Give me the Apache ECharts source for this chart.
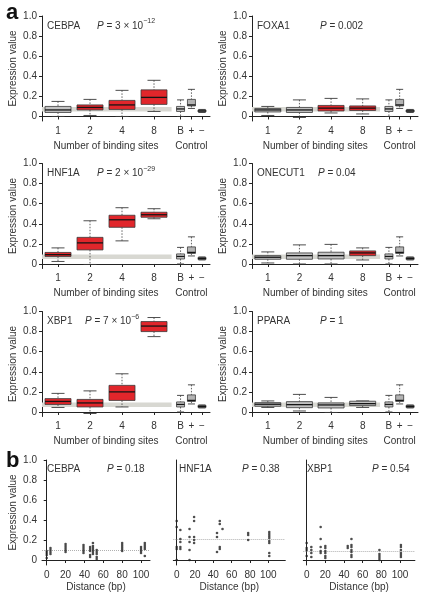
<!DOCTYPE html>
<html><head><meta charset="utf-8">
<script src="https://cdn.jsdelivr.net/npm/echarts@6.0.0/dist/echarts.min.js"></script>
<style>html,body{margin:0;padding:0;background:#fff}#c{width:422px;height:600px}</style>
</head><body><div id="c"></div>
<script>
// ---------- DATA ----------
const siteLabels = ['1', '2', '4', '8'];
const controlLabels = ['B', '+', '\u2212'];
const yTickValues = [0, 0.2, 0.4, 0.6, 0.8, 1.0];
const distanceTicks = [0, 20, 40, 60, 80, 100];

// boxes: [min, Q1, median, Q3, max]
const cebpaBoxes = [[0.0, 0.04, 0.065, 0.10, 0.15], [0.01, 0.065, 0.09, 0.115, 0.17], [0.0, 0.07, 0.115, 0.16, 0.26], [0.05, 0.12, 0.19, 0.265, 0.36]];
const cebpaSignificant = [0, 1, 1, 1];
const foxa1Boxes = [[0.01, 0.045, 0.065, 0.08, 0.10], [-0.01, 0.04, 0.065, 0.09, 0.165], [0.035, 0.055, 0.083, 0.11, 0.18], [0.025, 0.06, 0.083, 0.105, 0.175]];
const foxa1Significant = [0, 0, 1, 1];
const hnf1aBoxes = [[0.025, 0.075, 0.093, 0.115, 0.16], [-0.005, 0.14, 0.21, 0.265, 0.43], [0.23, 0.365, 0.44, 0.485, 0.56], [0.45, 0.465, 0.49, 0.515, 0.55]];
const hnf1aSignificant = [1, 1, 1, 1];
const onecut1Boxes = [[0.01, 0.047, 0.067, 0.083, 0.12], [0.0, 0.047, 0.083, 0.11, 0.19], [0.0, 0.05, 0.083, 0.117, 0.195], [0.04, 0.083, 0.11, 0.13, 0.16]];
const onecut1Significant = [0, 0, 0, 1];
const xbp1Boxes = [[0.045, 0.075, 0.105, 0.133, 0.185], [-0.015, 0.05, 0.09, 0.125, 0.21], [0.05, 0.115, 0.2, 0.265, 0.38], [0.75, 0.80, 0.855, 0.90, 0.94]];
const xbp1Significant = [1, 1, 1, 1];
const pparaBoxes = [[0.045, 0.057, 0.077, 0.093, 0.11], [0.01, 0.043, 0.073, 0.103, 0.175], [-0.005, 0.04, 0.07, 0.09, 0.145], [0.045, 0.063, 0.083, 0.107, 0.11]];
const pparaSignificant = [0, 0, 0, 0];
const controlBoxes = [[0.0, 0.05, 0.075, 0.10, 0.165], [0.08, 0.105, 0.115, 0.17, 0.27], [0.04, 0.045, 0.055, 0.065, 0.07]];
const backgroundBand = [0.05, 0.095];

// panel b: distance (bp) columns and expression values
const cebpaDistances = [0, 4, 20, 39, 46, 49, 53, 80, 100, 104];
const cebpaValues = [[0.09, 0.07, 0.05, 0.02], [0.12, 0.10, 0.08, 0.06], [0.16, 0.14, 0.12, 0.10, 0.08], [0.15, 0.13, 0.11, 0.09, 0.07], [0.13, 0.11, 0.09, 0.05, 0.03], [0.17, 0.14, 0.12, 0.10, 0.08, 0.06], [0.10, 0.08, 0.06, 0.03, 0.01], [0.17, 0.15, 0.13, 0.11, 0.09], [0.13, 0.11, 0.09, 0.07], [0.17, 0.15, 0.13, 0.11, 0.04]];
const hnf1aDistances = [0, 4, 14, 19, 44, 47, 50, 78, 101];
const hnf1aValues = [[0.39, 0.33, 0.13, 0.11, 0.0], [0.30, 0.21, 0.18, 0.13, 0.11], [0.31, 0.23, 0.18, 0.10, 0.0], [0.43, 0.39, 0.23, 0.20, 0.17], [0.27, 0.23, 0.08], [0.39, 0.36, 0.13, 0.11], [0.31], [0.27, 0.25, 0.20], [0.28, 0.26, 0.24, 0.22, 0.19, 0.17, 0.07, 0.04]];
const xbp1Distances = [0, 5, 15, 20, 44, 48, 78, 101];
const xbp1Values = [[0.17, 0.12, 0.10, 0.04], [0.13, 0.10, 0.07, 0.03], [0.33, 0.21, 0.13, 0.09, 0.07], [0.14, 0.12, 0.09, 0.07, 0.04, 0.02], [0.14, 0.12], [0.21, 0.15, 0.13, 0.10, 0.08, 0.05, 0.03], [0.10, 0.06, 0.04, 0.02, 0.0], [0.15, 0.13, 0.10, 0.07, 0.05, 0.03]];
const distanceReference = [0.105, 0.215, 0.085];

// ---------- LAYOUT / STYLE ----------
const FONT = "'Liberation Sans', Arial, sans-serif";
const TXT = '#333';
const AX = '#222';
const RED = '#e1262b';
const GRAY = '#c2c2c2';
const CONTROL_FILLS = ['#c9c9c9', '#b4b4b4', '#9c9c9c'];
const siteSlots = [1, 2, 3, 4];
const controlSlots = [4.83, 5.17, 5.5];

const panelsA = [
  { name: 'CEBPA', p: '{i|P} = 3 \u00d7 10{s|\u221212}', px: 97, boxes: cebpaBoxes, sig: cebpaSignificant },
  { name: 'FOXA1', p: '{i|P} = 0.002', px: 320, boxes: foxa1Boxes, sig: foxa1Significant },
  { name: 'HNF1A', p: '{i|P} = 2 \u00d7 10{s|\u221229}', px: 97, boxes: hnf1aBoxes, sig: hnf1aSignificant },
  { name: 'ONECUT1', p: '{i|P} = 0.04', px: 318, boxes: onecut1Boxes, sig: onecut1Significant },
  { name: 'XBP1', p: '{i|P} = 7 \u00d7 10{s|\u22126}', px: 85, boxes: xbp1Boxes, sig: xbp1Significant },
  { name: 'PPARA', p: '{i|P} = 1', px: 320, boxes: pparaBoxes, sig: pparaSignificant }
];
const panelsB = [
  { name: 'CEBPA', p: '{i|P} = 0.18', nx: 47, px: 107, d: cebpaDistances, v: cebpaValues, left: 42, width: 108, min: -5, max: 109.5, yLabels: true },
  { name: 'HNF1A', p: '{i|P} = 0.38', nx: 179, px: 242, d: hnf1aDistances, v: hnf1aValues, left: 173.3, width: 112, min: -3.7, max: 118.5, yLabels: false },
  { name: 'XBP1', p: '{i|P} = 0.54', nx: 307, px: 372, d: xbp1Distances, v: xbp1Values, left: 303.3, width: 111.6, min: -3.6, max: 116, yLabels: false }
];
const rowTops = [16, 163.5, 311.5];
const GRID_H = 105;

const richP = {
  i: { fontStyle: 'italic', fontSize: 10, fontFamily: FONT, fill: TXT, color: TXT, lineHeight: 16 },
  s: { fontSize: 7, fontFamily: FONT, fill: TXT, color: TXT, verticalAlign: 'top', lineHeight: 9 }
};

function textEl(x, y, text, opts) {
  opts = opts || {};
  return {
    type: 'text', x: x, y: y, silent: true,
    style: Object.assign({
      text: text, fill: TXT, fontSize: 10, fontFamily: FONT,
      align: 'left', textAlign: 'left', verticalAlign: 'middle', textVerticalAlign: 'middle',
      lineHeight: 16
    }, opts)
  };
}

function makeBoxRenderer(boxW, capW, fills) {
  return function (params, api) {
    const x = api.value(0);
    const pMin = api.coord([x, api.value(1)]);
    const pQ1 = api.coord([x, api.value(2)]);
    const pMed = api.coord([x, api.value(3)]);
    const pQ3 = api.coord([x, api.value(4)]);
    const pMax = api.coord([x, api.value(5)]);
    const cx = pMin[0];
    const fill = fills[api.value(6)];
    const stroke = '#3a3a3a';
    return {
      type: 'group', children: [
        { type: 'line', shape: { x1: cx, y1: pMax[1], x2: cx, y2: pQ3[1] }, style: { stroke: stroke, lineWidth: 0.8, lineDash: [1.5, 1.5] } },
        { type: 'line', shape: { x1: cx, y1: pQ1[1], x2: cx, y2: pMin[1] }, style: { stroke: stroke, lineWidth: 0.8, lineDash: [1.5, 1.5] } },
        { type: 'line', shape: { x1: cx - capW / 2, y1: pMax[1], x2: cx + capW / 2, y2: pMax[1] }, style: { stroke: stroke, lineWidth: 0.9 } },
        { type: 'line', shape: { x1: cx - capW / 2, y1: pMin[1], x2: cx + capW / 2, y2: pMin[1] }, style: { stroke: stroke, lineWidth: 0.9 } },
        { type: 'rect', shape: { x: cx - boxW / 2, y: pQ3[1], width: boxW, height: pQ1[1] - pQ3[1] }, style: { fill: fill, stroke: stroke, lineWidth: 0.8 } },
        { type: 'line', shape: { x1: cx - boxW / 2, y1: pMed[1], x2: cx + boxW / 2, y2: pMed[1] }, style: { stroke: '#151515', lineWidth: 1.3 } }
      ]
    };
  };
}

function makeBandRenderer() {
  return function (params, api) {
    const a = api.coord([api.value(0), api.value(3)]);
    const b = api.coord([api.value(1), api.value(2)]);
    return { type: 'rect', shape: { x: a[0], y: a[1], width: b[0] - a[0], height: b[1] - a[1] }, style: { fill: '#d8d8d2' } };
  };
}

const grid = [], xAxis = [], yAxis = [], series = [], graphic = [];
const xLabelAll = siteLabels.concat(controlLabels);
const xSlotAll = siteSlots.concat(controlSlots);
function slotLabel(v) {
  for (let i = 0; i < xSlotAll.length; i++) if (Math.abs(xSlotAll[i] - v) < 1e-6) return xLabelAll[i];
  return '';
}

graphic.push(textEl(6, 13, 'a', { fontSize: 22, fontWeight: 'bold', fill: '#111' }));
graphic.push(textEl(6, 461, 'b', { fontSize: 22, fontWeight: 'bold', fill: '#111' }));

panelsA.forEach(function (pn, i) {
  const row = Math.floor(i / 2), col = i % 2;
  const left = col ? 252 : 42, width = col ? 166 : 168, top = rowTops[row];
  grid.push({ left: left, top: top, width: width, height: GRID_H });
  xAxis.push({
    type: 'value', gridIndex: i, min: 0.5, max: 5.75,
    axisLine: { show: true, lineStyle: { color: AX, width: 1 } },
    axisTick: { show: true, customValues: xSlotAll, length: 3, lineStyle: { color: AX } },
    axisLabel: { show: true, customValues: xSlotAll, formatter: slotLabel, margin: 5, fontSize: 10, color: TXT, fontFamily: FONT },
    splitLine: { show: false }
  });
  yAxis.push({
    type: 'value', gridIndex: i, min: -0.045, max: 1.0,
    axisLine: { show: true, lineStyle: { color: AX, width: 1 } },
    axisTick: { show: true, customValues: yTickValues, length: 3, lineStyle: { color: AX } },
    axisLabel: { show: true, customValues: yTickValues, formatter: function (v) { return v === 0 ? '0' : v.toFixed(1); }, margin: 5, fontSize: 10, color: TXT, fontFamily: FONT },
    splitLine: { show: false },
    name: 'Expression value', nameLocation: 'middle', nameGap: 24,
    nameTextStyle: { fontSize: 10, color: TXT, fontFamily: FONT }
  });
  series.push({
    type: 'custom', xAxisIndex: i, yAxisIndex: i, z: 1, silent: true,
    renderItem: makeBandRenderer(), encode: { x: [0, 1], y: [2, 3] },
    data: [[0.5, 4.55, backgroundBand[0], backgroundBand[1]]]
  });
  series.push({
    type: 'custom', xAxisIndex: i, yAxisIndex: i, z: 3, silent: true,
    renderItem: makeBoxRenderer(26, 13, [GRAY, RED]), encode: { x: 0, y: [1, 2, 3, 4, 5] },
    data: pn.boxes.map(function (b, k) { return [siteSlots[k]].concat(b).concat([pn.sig[k]]); })
  });
  series.push({
    type: 'custom', xAxisIndex: i, yAxisIndex: i, z: 3, silent: true,
    renderItem: makeBoxRenderer(8, 7, CONTROL_FILLS), encode: { x: 0, y: [1, 2, 3, 4, 5] },
    data: controlBoxes.map(function (b, k) { return [controlSlots[k]].concat(b).concat([k]); })
  });
  const nx = left + 5, ny = top + 10;
  graphic.push(textEl(nx, ny, pn.name));
  graphic.push(textEl(pn.px, ny, pn.p, { rich: richP }));
  const axisY = top + GRID_H;
  const pxPerUnit = width / 5.25;
  graphic.push(textEl(left + (2.5 - 0.5) * pxPerUnit, axisY + 25, 'Number of binding sites', { align: 'center', textAlign: 'center' }));
  graphic.push(textEl(left + (controlSlots[1] - 0.5) * pxPerUnit, axisY + 25, 'Control', { align: 'center', textAlign: 'center' }));
});

panelsB.forEach(function (pn, j) {
  const gi = panelsA.length + j;
  grid.push({ left: pn.left, top: 460, width: pn.width, height: GRID_H });
  xAxis.push({
    type: 'value', gridIndex: gi, min: pn.min, max: pn.max,
    axisLine: { show: true, lineStyle: { color: AX, width: 1 } },
    axisTick: { show: true, customValues: distanceTicks, length: 3, lineStyle: { color: AX } },
    axisLabel: { show: true, customValues: distanceTicks, margin: 5, fontSize: 10, color: TXT, fontFamily: FONT },
    splitLine: { show: false },
    name: 'Distance (bp)', nameLocation: 'middle', nameGap: 17,
    nameTextStyle: { fontSize: 10, color: TXT, fontFamily: FONT }
  });
  yAxis.push({
    type: 'value', gridIndex: gi, min: -0.05, max: 1.0,
    axisLine: { show: true, lineStyle: { color: AX, width: 1 } },
    axisTick: { show: pn.yLabels, customValues: yTickValues, length: 3, lineStyle: { color: AX } },
    axisLabel: { show: pn.yLabels, customValues: yTickValues, formatter: function (v) { return v === 0 ? '0' : v.toFixed(1); }, margin: 5, fontSize: 10, color: TXT, fontFamily: FONT },
    splitLine: { show: false },
    name: pn.yLabels ? 'Expression value' : '', nameLocation: 'middle', nameGap: 24,
    nameTextStyle: { fontSize: 10, color: TXT, fontFamily: FONT }
  });
  const pts = [];
  pn.d.forEach(function (dist, k) { pn.v[k].forEach(function (val) { pts.push([dist, val]); }); });
  series.push({
    type: 'scatter', xAxisIndex: gi, yAxisIndex: gi, symbol: 'circle', symbolSize: 2.6, silent: true,
    itemStyle: { color: '#222' }, data: pts, z: 3,
    markLine: {
      silent: true, symbol: ['none', 'none'], label: { show: false }, z: 1,
      lineStyle: { type: 'dotted', color: '#b0b0b0', width: 1 },
      data: [{ yAxis: distanceReference[j] }]
    }
  });
  graphic.push(textEl(pn.nx, 469, pn.name));
  graphic.push(textEl(pn.px, 469, pn.p, { rich: richP }));
});

const chart = echarts.init(document.getElementById('c'), null, { renderer: 'canvas' });
chart.setOption({
  animation: false,
  backgroundColor: '#fff',
  textStyle: { fontFamily: FONT },
  grid: grid, xAxis: xAxis, yAxis: yAxis, series: series,
  graphic: { elements: graphic }
});
</script></body></html>
